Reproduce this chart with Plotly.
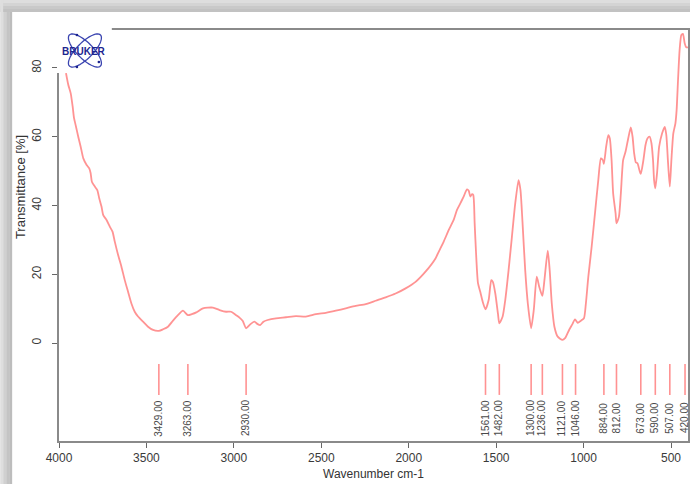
import numpy as np
import plotly.graph_objects as go

# IR spectrum (wavenumber in cm-1, transmittance in %)
wavenumber = [
    3960, 3947, 3933, 3922, 3914, 3903, 3890, 3876, 3861, 3842, 3827, 3819, 3812, 3795,
    3781, 3770, 3757, 3747, 3728, 3709, 3694, 3681, 3662, 3643, 3624, 3605, 3586, 3567,
    3548, 3519, 3491, 3462, 3429, 3405, 3377, 3348, 3320, 3291, 3263, 3240, 3215, 3177,
    3120, 3082, 3044, 3016, 2987, 2968, 2949, 2930, 2905, 2883, 2864, 2850, 2831, 2807,
    2759, 2702, 2645, 2588, 2531, 2474, 2417, 2360, 2303, 2246, 2189, 2132, 2075, 2018,
    1961, 1904, 1847, 1828, 1800, 1771, 1743, 1724, 1705, 1686, 1667, 1657, 1648, 1638,
    1631, 1623, 1615, 1604, 1591, 1577, 1561, 1543, 1528, 1519, 1505, 1490, 1482, 1463,
    1448, 1429, 1410, 1391, 1372, 1361, 1349, 1334, 1319, 1300, 1285, 1268, 1254, 1236,
    1224, 1205, 1194, 1182, 1167, 1148, 1121, 1106, 1083, 1064, 1049, 1034, 1015, 998,
    987, 973, 954, 935, 916, 901, 890, 884, 871, 859, 850, 840, 831, 817, 812, 798, 787,
    774, 760, 745, 730, 720, 711, 701, 692, 681, 673, 658, 646, 635, 622, 612, 603, 597,
    590, 580, 568, 551, 536, 527, 517, 507, 498, 487, 475, 468, 460, 451, 441, 432, 422,
    413, 403,
]
transmittance = [
    78.5, 75.1, 72.6, 68.8, 65.4, 63.0, 60.0, 57.1, 53.7, 51.8, 50.8, 49.4, 46.9, 45.5,
    44.5, 42.1, 39.7, 37.2, 35.8, 33.8, 32.4, 29.5, 25.6, 22.2, 18.3, 14.9, 11.5, 9.1,
    7.7, 6.2, 4.75, 3.8, 3.55, 4.0, 4.75, 6.5, 8.1, 9.4, 8.1, 8.4, 8.9, 10.1,
    10.3, 9.6, 9.1, 9.1, 8.1, 7.4, 6.4, 4.3, 5.5, 6.2, 5.5, 5.2, 6.2, 6.7,
    7.2, 7.5, 7.85, 7.7, 8.4, 8.8, 9.4, 10.1, 10.8, 11.3, 12.3, 13.3, 14.4, 15.9,
    17.8, 20.75, 24.6, 26.6, 29.5, 32.9, 35.8, 38.7, 40.6, 42.6, 44.7, 44.3, 42.6, 43.3,
    43.05, 34.8, 26.1, 17.4, 14.9, 12.0, 9.8, 12.5, 18.3, 17.8, 14.4, 8.6, 5.7, 7.7,
    12.5, 21.2, 30.9, 40.6, 47.4, 44.5, 34.8, 21.2, 11.5, 4.3, 9.6, 19.3, 16.4, 13.7,
    18.3, 26.9, 21.2, 11.5, 4.75, 1.85, 0.9, 1.4, 3.8, 5.5, 6.9, 5.9, 6.5, 7.2,
    11.5, 19.3, 28.0, 37.7, 47.4, 53.7, 53.2, 52.1, 57.1, 60.5, 59.5, 53.2, 43.5, 37.7, 34.8, 36.75, 43.5,
    53.2, 55.7, 59.5, 62.7, 60.0, 55.2, 52.5, 52.3, 50.3, 49.2, 53.2, 57.6, 59.5, 60.0, 58.1, 53.2, 47.4,
    45.0, 49.4, 57.1, 61.0, 62.9, 60.5, 52.3, 45.5, 53.2, 61.0, 63.9, 67.8, 76.5, 85.2, 89.6, 89.9, 87.2,
    86.0, 86.0,
]

# Picked peak positions (cm-1)
peaks = [3429, 3263, 2930, 1561, 1482, 1300, 1236, 1121, 1046, 884, 812, 673, 590, 507, 420]

x_ticks = [4000, 3500, 3000, 2500, 2000, 1500, 1000, 500]
y_ticks = [0, 20, 40, 60, 80]

W, H = 692, 484
ML, MR, MT, MB = 59, 2, 30, 43
PW, PH = W - ML - MR, H - MT - MB
FONT = "Liberation Sans, Arial, sans-serif"


def px(xp):
    return (xp - ML) / PW


def py(yp):
    return (H - MB - yp) / PH


fig = go.Figure()

fig.add_trace(go.Scatter(
    x=wavenumber, y=transmittance, mode="lines",
    line=dict(color="rgba(255,80,80,0.62)", width=1.8, shape="spline", smoothing=0.6),
    hoverinfo="skip", showlegend=False,
))

# peak sticks below the spectrum
stick_x, stick_y = [], []
for p in peaks:
    stick_x += [p, p, None]
    stick_y += [-6.1, -15.1, None]
fig.add_trace(go.Scatter(
    x=stick_x, y=stick_y, mode="lines",
    line=dict(color="rgba(255,100,100,0.7)", width=1.6),
    hoverinfo="skip", showlegend=False,
))

annotations = []
for p in peaks:
    annotations.append(dict(
        x=p, y=-21.8, xref="x", yref="y", text=f"{p:.2f}", showarrow=False,
        textangle=-90, xanchor="center", yanchor="middle",
        font=dict(family=FONT, size=10, color="#4a4a4a"),
    ))

annotations.append(dict(
    x=0.5, y=py(483.5), xref="paper", yref="paper", text="Wavenumber cm-1",
    showarrow=False, xanchor="center", yanchor="bottom",
    font=dict(family=FONT, size=12, color="#333333"),
))
annotations.append(dict(
    x=px(20), y=py(187), xref="paper", yref="paper", text="Transmittance [%]",
    showarrow=False, textangle=-90, xanchor="center", yanchor="middle",
    font=dict(family=FONT, size=13, color="#333333"),
))
annotations.append(dict(
    x=px(84), y=py(51), xref="paper", yref="paper", text="<b>BRUKER</b>",
    showarrow=False, xanchor="center", yanchor="middle",
    font=dict(family=FONT, size=10, color="#1c2590"),
))

shapes = []
# soft drop shadow along the top and left edges
top_bands = [(0, 3, "#dedede"), (3, 6, "#d4d4d4"), (6, 9, "#c9c9c9"), (9, 12, "#c2c2c2")]
for y0, y1, c in top_bands:
    shapes.append(dict(type="rect", xref="paper", yref="paper", x0=px(0), x1=px(W),
                       y0=py(y1), y1=py(y0), fillcolor=c, line=dict(width=0), layer="below"))
left_bands = [(0, 3, "#dedede"), (3, 6, "#d0d0d0"), (6, 9, "#c4c4c4"), (9, 12, "#bdbdbd")]
for x0, x1, c in left_bands:
    shapes.append(dict(type="rect", xref="paper", yref="paper", x0=px(x0), x1=px(x1),
                       y0=py(H), y1=py(12 if x0 else 0), fillcolor=c, line=dict(width=0),
                       layer="below"))

# logo block over the top-left corner of the frame
shapes.append(dict(type="rect", xref="paper", yref="paper", x0=px(57), x1=px(112),
                   y0=py(73), y1=py(27), fillcolor="white", line=dict(width=0), layer="above"))
t = np.linspace(0, 2 * np.pi, 60)
cx, cy, a, b = 85.0, 50.5, 22.0, 8.0
for ang in (np.pi / 4, -np.pi / 4):
    ex = cx + a * np.cos(t) * np.cos(ang) - b * np.sin(t) * np.sin(ang)
    ey = cy + a * np.cos(t) * np.sin(ang) + b * np.sin(t) * np.cos(ang)
    path = "M " + " L ".join(f"{px(u):.5f},{py(v):.5f}" for u, v in zip(ex, ey)) + " Z"
    shapes.append(dict(type="path", xref="paper", yref="paper", path=path,
                       line=dict(color="#3a44b0", width=1.3), layer="above"))
for dx, dy in [(77, 35), (77, 67), (99, 62)]:
    shapes.append(dict(type="circle", xref="paper", yref="paper",
                       x0=px(dx - 1.3), x1=px(dx + 1.3), y0=py(dy + 1.3), y1=py(dy - 1.3),
                       fillcolor="#1c2590", line=dict(width=0), layer="above"))

fig.update_layout(
    width=W, height=H, autosize=False,
    margin=dict(l=ML, r=MR, t=MT, b=MB, pad=0),
    paper_bgcolor="white", plot_bgcolor="white",
    shapes=shapes, annotations=annotations,
    xaxis=dict(
        range=[4000, 403], tickvals=x_ticks, ticktext=[str(v) for v in x_ticks],
        ticks="outside", ticklen=5, tickwidth=1.3, tickcolor="#666666",
        showgrid=False, zeroline=False, showline=True, mirror=True,
        linecolor="#8a8a8a", linewidth=1.5,
        tickfont=dict(family=FONT, size=12, color="#3a3a3a"),
    ),
    yaxis=dict(
        range=[-28.5, 91.05], tickvals=y_ticks, ticktext=[str(v) for v in y_ticks],
        tickangle=-90, ticks="outside", ticklen=5, tickwidth=1.3, tickcolor="#666666",
        showgrid=False, zeroline=False, showline=True, mirror=True,
        linecolor="#8a8a8a", linewidth=1.5, ticklabelstandoff=6,
        tickfont=dict(family=FONT, size=12, color="#3a3a3a"),
    ),
)

fig.write_html("out.html")
